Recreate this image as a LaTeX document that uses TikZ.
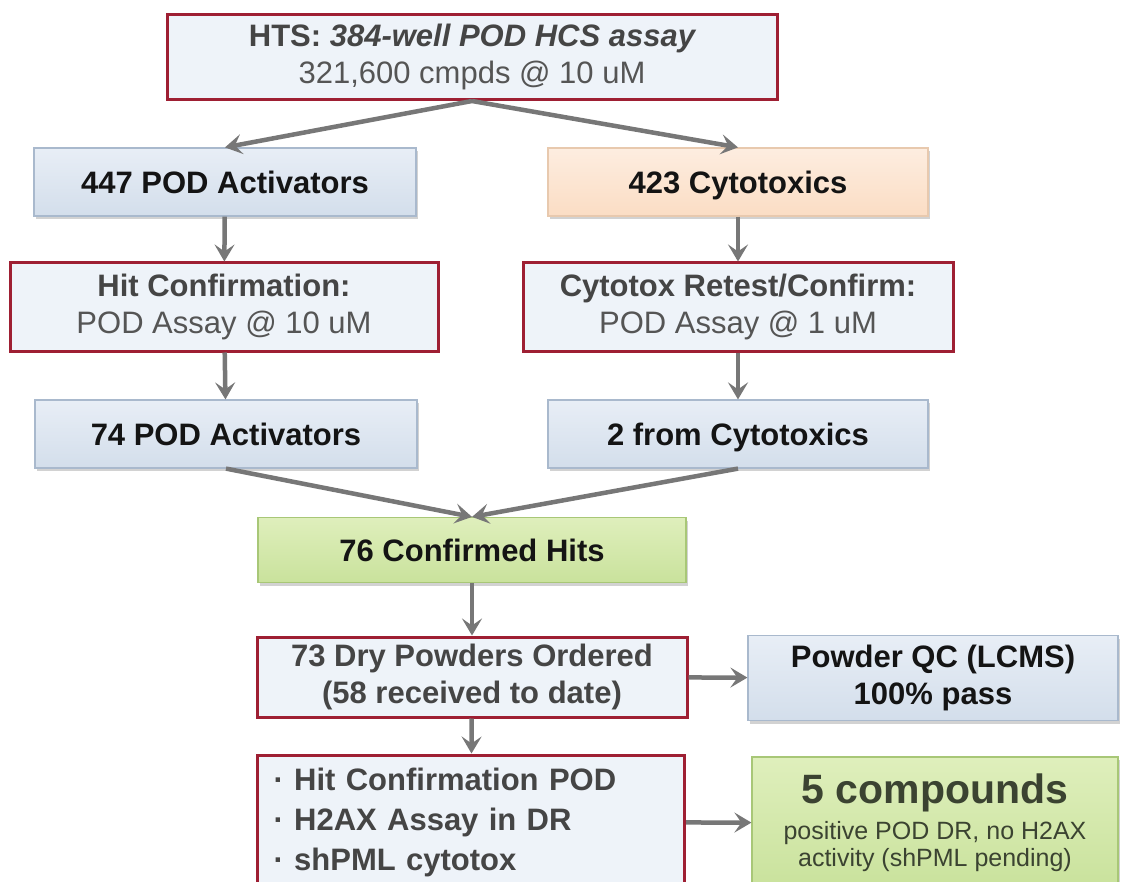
\documentclass[tikz,border=0pt]{standalone}
\usepackage{fontspec}
\setmainfont{Liberation Sans}
\usetikzlibrary{arrows.meta,shadows}

\definecolor{boxred}{HTML}{9E1F33}
\definecolor{redfill}{HTML}{EEF3F9}
\definecolor{bluetop}{HTML}{E8EEF6}
\definecolor{bluebot}{HTML}{D3DEEB}
\definecolor{blueline}{HTML}{A9B9CD}
\definecolor{orangetop}{HTML}{FDEDE0}
\definecolor{orangebot}{HTML}{FBDDC4}
\definecolor{orangeline}{HTML}{E8C9AE}
\definecolor{greentop}{HTML}{DFEFBC}
\definecolor{greenbot}{HTML}{C9E29C}
\definecolor{greenline}{HTML}{A8C777}
\definecolor{arrowgray}{HTML}{777777}
\definecolor{textgray}{HTML}{454545}
\definecolor{textlight}{HTML}{555555}
\definecolor{textolive}{HTML}{3B4331}

\begin{document}
\begin{tikzpicture}[x=1pt, y=-1pt,
  font=\fontsize{31}{37}\selectfont,
  redbox/.style={draw=boxred, line width=3pt, fill=redfill, align=center,
    text=textgray, inner sep=0pt},
  bluebox/.style={draw=blueline, line width=1.2pt, top color=bluetop,
    bottom color=bluebot, align=center, inner sep=0pt, text=black!92,
    font=\fontsize{31}{37}\selectfont\bfseries,
    drop shadow={shadow xshift=2pt, shadow yshift=-3pt, opacity=.35}},
  oneline/.style={text depth=0pt},
  orangebox/.style={bluebox, draw=orangeline, top color=orangetop,
    bottom color=orangebot},
  greenbox/.style={bluebox, draw=greenline, top color=greentop,
    bottom color=greenbot},
  arr/.style={draw=arrowgray, line width=4.5pt,
    -{Stealth[length=17pt, width=20pt, inset=7pt]}}]

 \clip (0,0) rectangle (1121,882);
 \fill [white] (0,0) rectangle (1121,882);

 % screening
 \node [redbox, minimum width=610pt, minimum height=85pt] (hts) at (472,57)
   {\bfseries HTS: \itshape 384-well POD HCS assay\\
    {\color{textlight}321,600 cmpds @ 10 uM}};

 \node [bluebox, oneline, minimum width=382pt, minimum height=68pt] (act) at (225,182)
   {447 POD Activators};
 \node [orangebox, oneline, minimum width=380pt, minimum height=68pt] (cyt) at (738,182)
   {423 Cytotoxics};

 % confirmation
 \node [redbox, minimum width=428pt, minimum height=88pt] (hitconf) at (224,307)
   {\bfseries Hit Confirmation:\\
    {\color{textlight}\mdseries POD Assay @ 10 uM}};
 \node [redbox, minimum width=430pt, minimum height=88pt] (retest) at (738,307)
   {\bfseries Cytotox Retest/Confirm:\\
    {\color{textlight}\mdseries POD Assay @ 1 uM}};

 \node [bluebox, oneline, minimum width=382pt, minimum height=68pt] (act2) at (226,434)
   {74 POD Activators};
 \node [bluebox, oneline, minimum width=380pt, minimum height=68pt] (cyt2) at (738,434)
   {2 from Cytotoxics};

 \node [greenbox, oneline, minimum width=428pt, minimum height=65pt] (hits) at (472,550)
   {76 Confirmed Hits};

 % follow-up
 \node [redbox, minimum width=430pt, minimum height=80pt,
   font=\fontsize{31}{37}\selectfont\bfseries] (powders) at (472,677)
   {73 Dry Powders Ordered\\(58 received to date)};
 \node [bluebox, minimum width=370pt, minimum height=85pt] (qc) at (933,678)
   {Powder QC (LCMS)\\100\% pass};

 \node [redbox, text width=395pt, align=left, inner xsep=16pt,
   minimum height=134pt, font=\fontsize{31}{40}\selectfont\bfseries]
   (assays) at (471,822)
   {· Hit Confirmation POD\\· H2AX Assay in DR\\· shPML cytotox};
 \node [greenbox, minimum width=366pt, minimum height=132pt, text=textolive,
   font=\fontsize{25}{27}\selectfont] (cmpd) at (935,823)
   {{\fontsize{41}{46}\selectfont\bfseries 5 compounds}\\[9pt]
    positive POD DR, no H2AX\\activity (shPML pending)};

 \path (hts.south) edge [arr] (act.north);
 \path (hts.south) edge [arr] (cyt.north);
 \path (act) edge [arr] (hitconf);
 \path (cyt) edge [arr] (retest);
 \path (hitconf) edge [arr] (act2);
 \path (retest) edge [arr] (cyt2);
 \path (act2.south) edge [arr] (hits.north);
 \path (cyt2.south) edge [arr] (hits.north);
 \path (hits) edge [arr] (powders);
 \path (powders) edge [arr] (assays);
 \path (powders) edge [arr] (qc);
 \path (assays) edge [arr] (cmpd);
\end{tikzpicture}
\end{document}
